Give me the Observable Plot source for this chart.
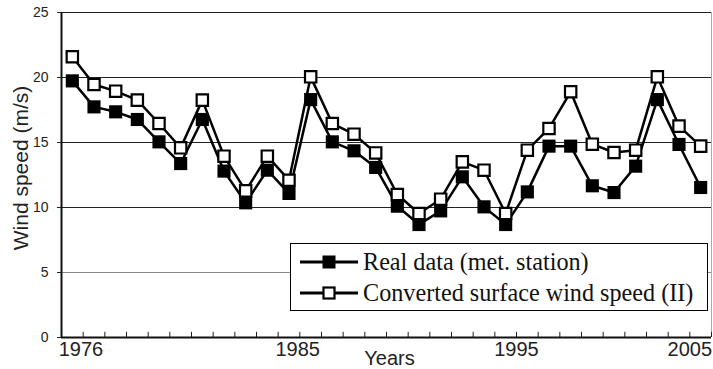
<!DOCTYPE html>
<html><head><meta charset="utf-8">
<script src="https://cdn.jsdelivr.net/npm/d3@7"></script>
<script src="https://cdn.jsdelivr.net/npm/@observablehq/plot@0.6"></script>
<style>
body{margin:0;background:#fff}
#wrap{position:relative;width:713px;height:369px}
#legend{position:absolute;left:290px;top:243px;width:416px;height:66px;border:1.5px solid #000;background:#fff}
</style>
</head><body><div id="wrap"></div>
<script>
const years = [1976,1977,1978,1979,1980,1981,1982,1983,1984,1985,1986,1987,1988,1989,1990,1991,1992,1993,1994,1995,1996,1997,1998,1999,2000,2001,2002,2003,2004,2005];
const realData = [19.74,17.74,17.36,16.77,15.05,13.38,16.77,12.8,10.36,12.87,11.08,18.3,15.05,14.36,13.08,10.1,8.69,9.74,12.36,10.05,8.69,11.2,14.72,14.72,11.67,11.15,13.18,18.3,14.85,11.54];
const converted = [21.6,19.46,18.95,18.26,16.46,14.59,18.26,13.95,11.28,13.95,12.1,20.05,16.46,15.64,14.2,11.0,9.54,10.64,13.51,12.87,9.54,14.41,16.08,18.9,14.87,14.23,14.41,20.05,16.26,14.72];
const seriesNames = ["Real data (met. station)", "Converted surface wind speed (II)"];
const yTicks = [0,5,10,15,20,25];
const xTickLabels = ["1976","1985","1995","2005"];
const xTickAt = [1976.4, 1986.4, 1996.5, 2004.5];
const yLabel = "Wind speed (m/s)";
const xLabel = "Years";

const real = years.map((y,i)=>({year:y, v:realData[i]}));
const conv = years.map((y,i)=>({year:y, v:converted[i]}));
const bounds = years.map(y=>y-0.5).concat([years[years.length-1]+0.5]);
const labelMap = new Map(xTickAt.map((d,i)=>[d, xTickLabels[i]]));
const sans = "'Liberation Sans', Arial, Helvetica, sans-serif";

const chart = Plot.plot({
  width: 713, height: 369,
  marginLeft: 61, marginRight: 2, marginTop: 12, marginBottom: 32,
  style: {fontFamily: sans, color: "#222", background: "#fff", overflow: "visible"},
  x: {domain: [bounds[0], bounds[bounds.length-1]], axis: null},
  y: {domain: [0, 25], axis: null},
  marks: [
    Plot.ruleY([10,15,20,25], {stroke: "#222", strokeWidth: 1}),
    Plot.ruleY([5], {stroke: "#888", strokeWidth: 1}),
    Plot.ruleX([bounds[bounds.length-1]], {stroke: "#aaa", strokeWidth: 1}),
    Plot.ruleX(bounds, {y1: 0, y2: 0.4, stroke: "#222", strokeWidth: 1}),
    Plot.ruleX([bounds[0]], {stroke: "#111", strokeWidth: 2}),
    Plot.ruleY([0], {stroke: "#111", strokeWidth: 2}),
    Plot.axisY(yTicks, {tickSize: 4, tickPadding: 9, fontSize: 14, label: null, stroke: "#222"}),
    Plot.axisX(xTickAt, {tickSize: 0, tickPadding: 4, fontSize: 20, label: null, tickFormat: d => labelMap.get(d)}),
    Plot.text([yLabel], {frameAnchor: "left", textAnchor: "middle", rotate: -90, dx: -40, dy: -7, fontSize: 21, fill: "#222"}),
    Plot.text([xLabel], {frameAnchor: "bottom", lineAnchor: "top", dx: 3, dy: 13, fontSize: 20, fill: "#222"}),
    Plot.line(real, {x: "year", y: "v", stroke: "#000", strokeWidth: 2.5}),
    Plot.dot(real, {x: "year", y: "v", symbol: "square", r: 7.4, fill: "#000", stroke: "none"}),
    Plot.line(conv, {x: "year", y: "v", stroke: "#000", strokeWidth: 2.5}),
    Plot.dot(conv, {x: "year", y: "v", symbol: "square", r: 6.4, fill: "#fff", stroke: "#000", strokeWidth: 2.2})
  ]
});
const wrap = document.getElementById("wrap");
wrap.appendChild(chart);

// legend
const leg = d3.select(wrap).append("div").attr("id","legend");
const svg = leg.append("svg").attr("width",416).attr("height",66);
const rows = [{name: seriesNames[0], fill: "#000", w: 13}, {name: seriesNames[1], fill: "#fff", w: 11}];
rows.forEach((r,i)=>{
  const cy = 18 + i*31;
  svg.append("line").attr("x1",9).attr("x2",67).attr("y1",cy).attr("y2",cy).attr("stroke","#000").attr("stroke-width",3);
  svg.append("rect").attr("x",38-r.w/2).attr("y",cy-r.w/2).attr("width",r.w).attr("height",r.w)
    .attr("fill",r.fill).attr("stroke","#000").attr("stroke-width", r.fill==="#000"?0:2.2);
  svg.append("text").attr("x",72).attr("y",cy).attr("dy","0.35em")
    .attr("font-family","'Liberation Serif', 'Times New Roman', serif").attr("font-size",24.2).attr("fill","#111").text(r.name);
});
</script>
</body></html>
